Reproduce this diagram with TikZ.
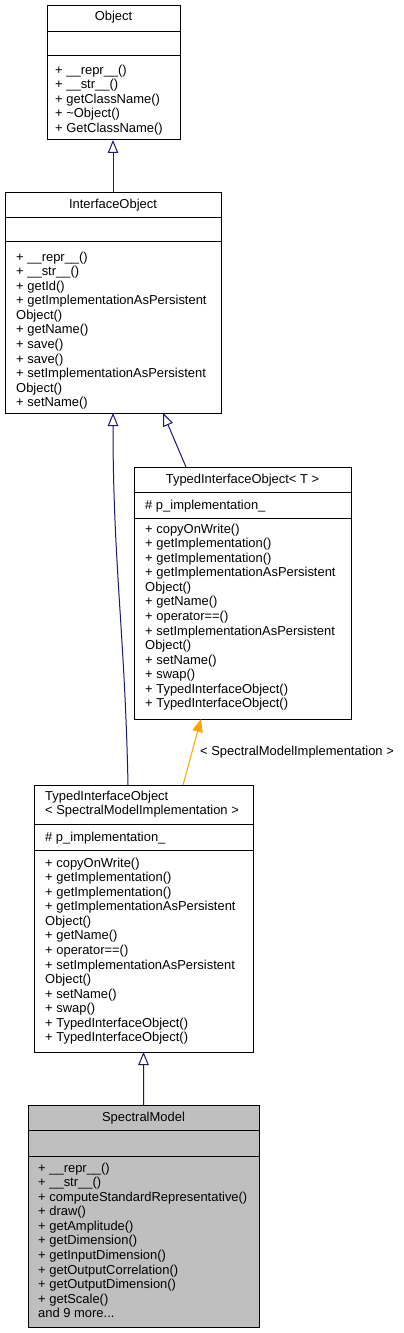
\documentclass[tikz,border=0pt]{standalone}
\usepackage{fontspec}
\setmainfont{Liberation Sans}
\usetikzlibrary{arrows.meta}
\definecolor{edgeblue}{HTML}{191970}
\definecolor{edgeorange}{HTML}{FFA500}
\definecolor{curfill}{HTML}{BFBFBF}
\newcommand{\fl}{\rule{0pt}{11bp}}
\tikzset{
  umlbox/.style={draw=black, line width=1bp, anchor=north west, inner sep=0, outer sep=0},
  divider/.style={draw=black, line width=1bp},
  members/.style={anchor=north west, inner sep=0, align=left, font=\fontsize{13}{14.6}\selectfont},
  ttl/.style={anchor=base, inner sep=0, font=\fontsize{13}{14.6}\selectfont},
  inh/.style={draw=edgeblue, line width=1bp, -{Triangle[open, length=13bp, width=10.5bp, fill=white]}},
  tmpl/.style={draw=edgeorange, line width=1bp, -{Triangle[length=13bp, width=10.5bp, fill=edgeorange]}},
}
\begin{document}
\begin{tikzpicture}[x=1bp, y=-1bp]
\useasboundingbox[fill=white] (0,0) rectangle (403,1333);

% Object
\node[umlbox, minimum width=133bp, minimum height=134bp] (obj) at (47,6) {};
\node[ttl] (objt) at (113.5,21) {Object};
\draw[divider] (obj.west |- 0,32) -- (obj.east |- 0,32);
\draw[divider] (obj.west |- 0,56) -- (obj.east |- 0,56);
\node[members] (objm) at (55,63) {\fl+ \_\_repr\_\_()\\+ \_\_str\_\_()\\+ getClassName()\\+ \textasciitilde Object()\\+ GetClassName()};

% InterfaceObject
\node[umlbox, minimum width=216bp, minimum height=220bp] (iface) at (5,193) {};
\node[ttl] (ifacet) at (113,209) {InterfaceObject};
\draw[divider] (iface.west |- 0,218) -- (iface.east |- 0,218);
\draw[divider] (iface.west |- 0,242) -- (iface.east |- 0,242);
\node[members] (ifacem) at (16,250) {\fl+ \_\_repr\_\_()\\+ \_\_str\_\_()\\+ getId()\\+ getImplementationAsPersistent\\Object()\\+ getName()\\+ save()\\+ save()\\+ setImplementationAsPersistent\\Object()\\+ setName()};

% TypedInterfaceObject< T >
\node[umlbox, minimum width=217bp, minimum height=252bp] (typedT) at (134,467) {};
\node[ttl] (typedTt) at (242.5,483) {TypedInterfaceObject< T >};
\draw[divider] (typedT.west |- 0,492) -- (typedT.east |- 0,492);
\draw[divider] (typedT.west |- 0,518) -- (typedT.east |- 0,518);
\node[members] (typedTa) at (145,498) {\fl\# p\_implementation\_};
\node[members] (typedTm) at (145,522) {\fl+ copyOnWrite()\\+ getImplementation()\\+ getImplementation()\\+ getImplementationAsPersistent\\Object()\\+ getName()\\+ operator==()\\+ setImplementationAsPersistent\\Object()\\+ setName()\\+ swap()\\+ TypedInterfaceObject()\\+ TypedInterfaceObject()};

% TypedInterfaceObject< SpectralModelImplementation >
\node[umlbox, minimum width=219bp, minimum height=267bp] (typedS) at (34,785) {};
\node[members] (typedSt) at (45,789) {\fl TypedInterfaceObject\\< SpectralModelImplementation >};
\draw[divider] (typedS.west |- 0,824) -- (typedS.east |- 0,824);
\draw[divider] (typedS.west |- 0,850) -- (typedS.east |- 0,850);
\node[members] (typedSa) at (45,830) {\fl\# p\_implementation\_};
\node[members] (typedSm) at (45,856) {\fl+ copyOnWrite()\\+ getImplementation()\\+ getImplementation()\\+ getImplementationAsPersistent\\Object()\\+ getName()\\+ operator==()\\+ setImplementationAsPersistent\\Object()\\+ setName()\\+ swap()\\+ TypedInterfaceObject()\\+ TypedInterfaceObject()};

% SpectralModel
\node[umlbox, fill=curfill, minimum width=231bp, minimum height=222bp] (sm) at (28,1105) {};
\node[ttl] (smt) at (143.5,1121) {SpectralModel};
\draw[divider] (sm.west |- 0,1130) -- (sm.east |- 0,1130);
\draw[divider] (sm.west |- 0,1156) -- (sm.east |- 0,1156);
\node[members] (smm) at (38,1161) {\fl+ \_\_repr\_\_()\\+ \_\_str\_\_()\\+ computeStandardRepresentative()\\+ draw()\\+ getAmplitude()\\+ getDimension()\\+ getInputDimension()\\+ getOutputCorrelation()\\+ getOutputDimension()\\+ getScale()\\and 9 more...};

% edges
\draw[inh] (iface.north) -- (iface.north |- obj.south);
\draw[inh] ([xshift=52bp]typedT.north west) -- ([xshift=50bp]iface.south);
\draw[inh] ([xshift=94bp]typedS.north west) .. controls +(-3,-150) and +(0,150) .. (iface.south);
\draw[tmpl] ([xshift=149bp]typedS.north west) -- ([xshift=67bp]typedT.south west);
\node[anchor=base west, inner sep=0, font=\fontsize{13}{14.6}\selectfont] (tlabel) at (200,755) {< SpectralModelImplementation >};
\draw[inh] (sm.north) -- (typedS.south);
\end{tikzpicture}
\end{document}
